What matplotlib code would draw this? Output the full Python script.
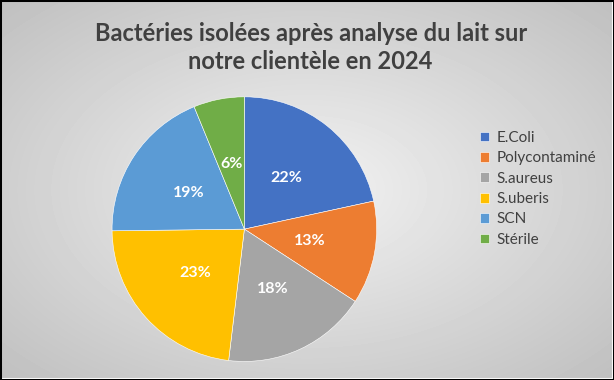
import matplotlib
matplotlib.use('Agg')
import matplotlib.pyplot as plt
import numpy as np
from matplotlib.patches import Rectangle

plt.rcParams['font.family'] = ['Lato', 'DejaVu Sans']

categories = ['E.Coli', 'Polycontaminé', 'S.aureus', 'S.uberis', 'SCN', 'Stérile']
values = [21.6, 12.6, 17.7, 22.9, 19.0, 6.2]
colors = ['#4472C4', '#ED7D31', '#A5A5A5', '#FFC000', '#5B9BD5', '#70AD47']
title = 'Bactéries isolées après analyse du lait sur\nnotre clientèle en 2024'

fig = plt.figure(figsize=(6.14, 3.80), dpi=100)

# fond en dégradé radial
bg = fig.add_axes([0, 0, 1, 1])
xx, yy = np.meshgrid(np.linspace(-1, 1, 614), np.linspace(-1, 1, 380))
d = np.sqrt(xx ** 2 + yy ** 2) / np.sqrt(2)
shade = 0.95 - 0.20 * d
bg.imshow(shade, cmap='gray', vmin=0, vmax=1, aspect='auto', extent=[0, 1, 0, 1])
bg.set_xlim(0, 1)
bg.set_ylim(0, 1)
bg.axis('off')

# bordure
fig.patches.append(Rectangle((0.0015, 0.003), 0.997, 0.994, transform=fig.transFigure,
                             fill=False, edgecolor='white', linewidth=1.5))
fig.patches.append(Rectangle((0, 0), 1, 1, transform=fig.transFigure,
                             fill=False, edgecolor='black', linewidth=2.2))

fig.text(0.506, 0.875, title, ha='center', va='center', fontsize=17, fontweight='bold',
         color='#404040', linespacing=1.25)

ax = fig.add_axes([0.398 - 0.2155, 0.397 - 0.3482, 0.431, 0.6964])
wedges, texts, autotexts = ax.pie(values, colors=colors, startangle=90, counterclock=False,
                                  autopct='%.0f%%', pctdistance=0.5,
                                  wedgeprops={'edgecolor': 'white', 'linewidth': 0.4})
for t in autotexts:
    t.set_color('white')
    t.set_fontweight('bold')
    t.set_fontsize(11.5)
ax.set_xlim(-1, 1)
ax.set_ylim(-1, 1)
ax.set_aspect('equal')

leg = fig.legend(wedges, categories, loc='center left', bbox_to_anchor=(0.781, 0.503),
                 frameon=False, fontsize=11, handlelength=0.6, handleheight=0.6,
                 handletextpad=0.5, labelspacing=0.42, labelcolor='#404040',
                 borderpad=0, borderaxespad=0)

fig.savefig('out.png', dpi=100)
print('over')
